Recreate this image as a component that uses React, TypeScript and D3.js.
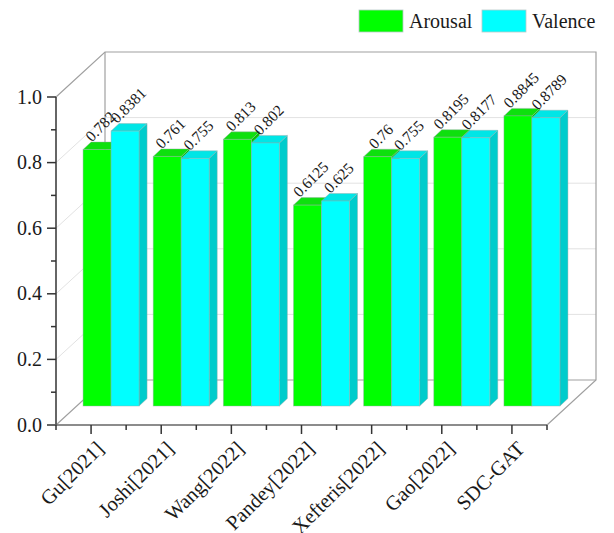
import React from "react";
import * as d3 from "d3";

const methods = ["Gu[2021]", "Joshi[2021]", "Wang[2022]", "Pandey[2022]", "Xefteris[2022]", "Gao[2022]", "SDC-GAT"];
const arousal = [0.782, 0.761, 0.813, 0.6125, 0.76, 0.8195, 0.8845];
const valence = [0.8381, 0.755, 0.802, 0.625, 0.755, 0.8177, 0.8789];
const yTicks = [0, 0.2, 0.4, 0.6, 0.8, 1.0];
const yMinorTicks = [0.1, 0.3, 0.5, 0.7, 0.9];

const SERIF = "'Liberation Serif', 'Times New Roman', serif";
const GREEN = { front: "#00ff00", top: "#0ee00e", side: "#00c800" };
const CYAN = { front: "#00ffff", top: "#00e6e6", side: "#00cccc" };

const W = 614;
const H = 533;
const x0 = 56;
const x1 = 547;
const yBase = 425;
const yTop = 97;
// Oblique offsets: full box depth, bar front plane, and bar thickness
const depth = { x: 49, y: 45 };
const front = { x: 20, y: 19 };
const thick = { x: 8, y: 7.5 };
const barW = 28;

const xBand = d3.scaleBand<string>().domain(methods).range([x0, x1]);
const y = d3.scaleLinear().domain([0, 1]).range([yBase, yTop]);

function Bar({ x, value, c }: { x: number; value: number; c: typeof GREEN }) {
  const bottom = y(0) - front.y;
  const top = y(value) - front.y;
  const pts = (p: number[][]) => p.map((q) => q.join(",")).join(" ");
  return (
    <g stroke="#9aa" strokeOpacity={0.55} strokeWidth={0.8}>
      <polygon fill={c.side} points={pts([[x + barW, top], [x + barW + thick.x, top - thick.y], [x + barW + thick.x, bottom - thick.y], [x + barW, bottom]])} />
      <polygon fill={c.top} points={pts([[x, top], [x + thick.x, top - thick.y], [x + barW + thick.x, top - thick.y], [x + barW, top]])} />
      <rect x={x} y={top} width={barW} height={bottom - top} fill={c.front} />
    </g>
  );
}

function ValueLabel({ x, value, text }: { x: number; value: number; text: string }) {
  const fs = 15.5;
  const halfLen = ((text.length - 1) * 0.5 + 0.25) * fs * 0.5;
  const cx = x + barW / 2 + 7;
  const cy = y(value) - front.y - 7 - halfLen * Math.SQRT1_2;
  return (
    <text x={cx} y={cy} fontSize={fs} textAnchor="middle" fill="#1a1a1a" transform={`rotate(-45 ${cx} ${cy})`}>
      {text}
    </text>
  );
}

export default function App() {
  const band = xBand.bandwidth();
  return (
    <svg width={W} height={H} viewBox={`0 0 ${W} ${H}`} style={{ position: "absolute", left: 0, top: 0, background: "#fff" }} fontFamily={SERIF}>
      {/* back wall, side wall and floor */}
      <g fill="none" stroke="#e2e2e2" strokeWidth={1}>
        {yTicks.slice(1, -1).map((t) => (
          <g key={t}>
            <line x1={x0} y1={y(t)} x2={x0 + depth.x} y2={y(t) - depth.y} />
            <line x1={x0 + depth.x} y1={y(t) - depth.y} x2={x1 + depth.x} y2={y(t) - depth.y} />
          </g>
        ))}
      </g>
      <g fill="none" stroke="#a0a0a0" strokeWidth={1.2}>
        <polyline points={`${x0},${y(1)} ${x0 + depth.x},${y(1) - depth.y} ${x1 + depth.x},${y(1) - depth.y} ${x1 + depth.x},${y(0) - depth.y} ${x1},${y(0)}`} />
        <polyline points={`${x0},${y(0)} ${x0 + depth.x},${y(0) - depth.y} ${x1 + depth.x},${y(0) - depth.y}`} />
        <line x1={x0 + depth.x} y1={y(1) - depth.y} x2={x0 + depth.x} y2={y(0) - depth.y} />
      </g>

      {/* bars */}
      {methods.map((m, i) => {
        const left = xBand(m)! + band / 2 + front.x - barW;
        return (
          <g key={m}>
            <Bar x={left} value={arousal[i]} c={GREEN} />
            <Bar x={left + barW} value={valence[i]} c={CYAN} />
          </g>
        );
      })}
      {methods.map((m, i) => {
        const left = xBand(m)! + band / 2 + front.x - barW;
        return (
          <g key={m}>
            <ValueLabel x={left} value={arousal[i]} text={String(arousal[i])} />
            <ValueLabel x={left + barW} value={valence[i]} text={String(valence[i])} />
          </g>
        );
      })}

      {/* y axis */}
      <g stroke="#333" strokeWidth={1.5}>
        <line x1={x0} y1={y(1)} x2={x0} y2={y(0)} />
        {yTicks.map((t) => <line key={t} x1={x0 - 9} x2={x0} y1={y(t)} y2={y(t)} />)}
        {yMinorTicks.map((t) => <line key={t} x1={x0 - 5} x2={x0} y1={y(t)} y2={y(t)} />)}
      </g>
      <g fontSize={20} fill="#1a1a1a" textAnchor="end">
        {yTicks.map((t) => (
          <text key={t} x={x0 - 14} y={y(t) + 6.5}>{d3.format(".1f")(t)}</text>
        ))}
      </g>

      {/* x axis */}
      <g stroke="#333" strokeWidth={1.5}>
        <line x1={x0 - 1} x2={x1} y1={y(0)} y2={y(0)} stroke="#666" />
        {methods.map((m) => {
          const tx = xBand(m)! + band / 2;
          return (
            <g key={m}>
              <line x1={tx} x2={tx} y1={y(0)} y2={y(0) + 9} />
              <line x1={tx - band / 2} x2={tx - band / 2} y1={y(0)} y2={y(0) + 5} />
            </g>
          );
        })}
        <line x1={x1} x2={x1} y1={y(0)} y2={y(0) + 5} />
      </g>
      <g fontSize={20.5} fill="#1a1a1a" textAnchor="end">
        {methods.map((m) => {
          const tx = xBand(m)! + band / 2 + 14;
          const ty = y(0) + 25;
          return (
            <text key={m} x={tx} y={ty} transform={`rotate(-45 ${tx} ${ty})`}>{m}</text>
          );
        })}
      </g>

      {/* legend */}
      <g stroke="#b8c8c8" strokeWidth={0.8}>
        <rect x={359} y={10} width={44} height={22} fill={GREEN.front} />
        <rect x={482} y={10} width={44} height={22} fill={CYAN.front} />
      </g>
      <g fontSize={20} fill="#1a1a1a">
        <text x={409} y={27.5}>Arousal</text>
        <text x={532} y={27.5}>Valence</text>
      </g>
    </svg>
  );
}
